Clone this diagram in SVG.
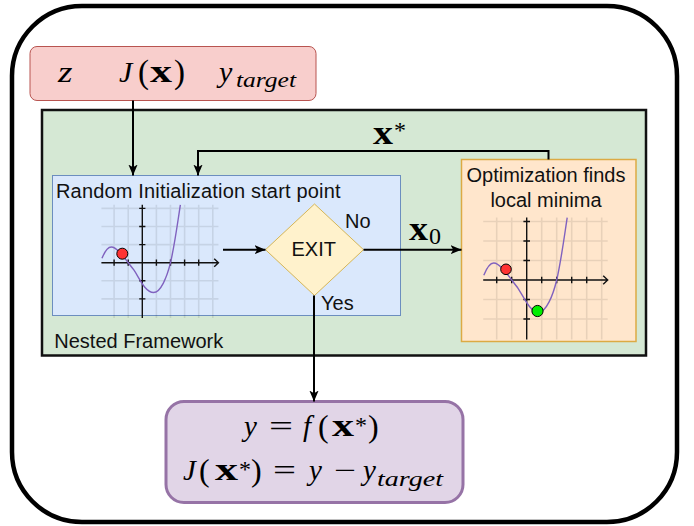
<svg xmlns="http://www.w3.org/2000/svg" xmlns:xlink="http://www.w3.org/1999/xlink" width="694" height="526" viewBox="0 0 694 526">
<style>
.sans{font-family:"Liberation Sans",Arial,sans-serif;font-size:20px;fill:#111}
.m{font-family:"Liberation Serif","Times New Roman",serif;fill:#000}
.mi{font-style:italic}
.mb{font-weight:bold}
.ln{fill:none;stroke:#000;stroke-width:2}
.grid{stroke:#000;stroke-opacity:0.09;stroke-width:1.6;vector-effect:non-scaling-stroke;fill:none}
.axis{stroke:#111;stroke-width:1.4;vector-effect:non-scaling-stroke;fill:none}
.curve{stroke:#8062bf;stroke-width:1.4;vector-effect:non-scaling-stroke;fill:none}
</style>
<defs>
<marker id="arr" viewBox="0 0 10 10" refX="10" refY="5" markerWidth="11" markerHeight="11" orient="auto" markerUnits="userSpaceOnUse">
<path d="M0,0.8 L10,5 L0,9.2 L2.5,5 Z" fill="#000"/>
</marker>
<g id="plot">
<path class="grid" d="M-2.9,3 H5.4 M-2.9,2 H5.4 M-2.9,1 H5.4 M-2.9,-1 H5.4 M-2.9,-2 H5.4 M-2,-3.05 V3.2 M-1,-3.05 V3.2 M1,-3.05 V3.2 M2,-3.05 V3.2 M3,-3.05 V3.2 M4,-3.05 V3.2 M5,-3.05 V3.2"/>
<path class="axis" d="M-2.9,0 H5.4 M5.1,0.22 L5.4,0 L5.1,-0.22 M0,-3.05 V3.2 M-2,-0.17 V0.17 M-1,-0.17 V0.17 M1,-0.17 V0.17 M2,-0.17 V0.17 M3,-0.17 V0.17 M4,-0.17 V0.17 M-0.22,3 H0.22 M-0.22,2 H0.22 M-0.22,1 H0.22 M-0.22,-1 H0.22 M-0.22,-2 H0.22"/>
<path class="curve" d="M-2.86,0.24 C-2.65,0.65 -2.45,0.87 -2.2,0.87 C-1.8,0.87 -1.3,0.3 -0.6,-0.4 C-0.2,-0.85 0.2,-1.65 0.8,-1.65 C1.3,-1.65 1.75,-0.8 2,0 C2.3,1 2.5,2.2 2.7,3.2"/>
</g>
</defs>

<g id="outer">
<rect x="12" y="6" width="665" height="516" rx="70" ry="70" fill="#fff" stroke="#000" stroke-width="4.5"/>
</g>

<g id="inputs">
<rect x="30" y="46.5" width="286" height="54" rx="7" fill="#f8cecc" stroke="#b85450" stroke-width="1"/>
<text class="m mi" x="58" y="82" font-size="30" textLength="14.5" lengthAdjust="spacingAndGlyphs">z</text>
<text class="m mi" x="119" y="82" font-size="30">J</text>
<text class="m" x="138" y="83" font-size="33">(</text>
<text class="m mb" x="150" y="82" font-size="32" textLength="22" lengthAdjust="spacingAndGlyphs">x</text>
<text class="m" x="174" y="83" font-size="33">)</text>
<text class="m mi" x="219" y="82" font-size="30">y</text>
<text class="m mi" x="236" y="87" font-size="22" textLength="60" lengthAdjust="spacingAndGlyphs">target</text>
</g>

<g id="nested-framework">
<rect x="42" y="110" width="604" height="245.5" fill="#d5e8d4" stroke="#111" stroke-width="2.5"/>
<text class="sans" x="54.3" y="347.5">Nested Framework</text>
</g>

<g id="random-init">
<rect x="52.5" y="175.5" width="348" height="140" fill="#dae8fc" stroke="#6c8ebf" stroke-width="1"/>
<text class="sans" x="56" y="197.5" textLength="284.5">Random Initialization start point</text>
<use xlink:href="#plot" href="#plot" transform="translate(142.3,262.7) scale(14.1,-18.1)"/>
<circle cx="122.3" cy="253.7" r="5.5" fill="#ff3333" stroke="#000" stroke-width="1"/>
</g>

<g id="exit">
<polygon points="314.5,204 363.5,249.7 314.5,295.5 265.5,249.7" fill="#fff2cc" stroke="#d6b656" stroke-width="1"/>
<text class="sans" x="313.7" y="256" font-size="18" text-anchor="middle">EXIT</text>
</g>

<g id="optimization">
<rect x="461.5" y="159.5" width="174.5" height="182" fill="#ffe6cc" stroke="#dcaa44" stroke-width="1.5"/>
<text class="sans" x="546" y="181.7" text-anchor="middle">Optimization finds</text>
<text class="sans" x="546" y="206.7" text-anchor="middle">local minima</text>
<use xlink:href="#plot" href="#plot" transform="translate(526.7,280) scale(15,-19.5)"/>
<circle cx="506" cy="269.3" r="5.3" fill="#ff3333" stroke="#000" stroke-width="1"/>
<circle cx="537.5" cy="311" r="5.6" fill="#00ee00" stroke="#000" stroke-width="1"/>
</g>

<g id="output">
<rect x="166" y="401.5" width="297" height="101" rx="18" ry="18" fill="#e1d5e7" stroke="#9673a6" stroke-width="3"/>
<text class="m mi" x="244" y="436" font-size="29">y</text>
<text class="m" x="269" y="436" font-size="29" textLength="24" lengthAdjust="spacingAndGlyphs">=</text>
<text class="m mi" x="303" y="436" font-size="29">f</text>
<text class="m" x="318" y="437" font-size="32">(</text>
<text class="m mb" x="332" y="436" font-size="32" textLength="22" lengthAdjust="spacingAndGlyphs">x</text>
<text class="m" x="355" y="433" font-size="24">*</text>
<text class="m" x="368" y="437" font-size="32">)</text>
<text class="m mi" x="183" y="480" font-size="29">J</text>
<text class="m" x="199" y="481" font-size="32">(</text>
<text class="m mb" x="215" y="480" font-size="32" textLength="23" lengthAdjust="spacingAndGlyphs">x</text>
<text class="m" x="239" y="477" font-size="24">*</text>
<text class="m" x="251" y="481" font-size="32">)</text>
<text class="m" x="273" y="480" font-size="29" textLength="23" lengthAdjust="spacingAndGlyphs">=</text>
<text class="m mi" x="309" y="480" font-size="29">y</text>
<text class="m" x="334" y="480" font-size="29" textLength="22" lengthAdjust="spacingAndGlyphs">−</text>
<text class="m mi" x="363" y="480" font-size="29">y</text>
<text class="m mi" x="377" y="486" font-size="21" textLength="66" lengthAdjust="spacingAndGlyphs">target</text>
</g>

<g id="connectors">
<path class="ln" d="M133,100.5 V175.5" marker-end="url(#arr)"/>
<path class="ln" d="M548.5,159.5 V151 H198 V175.5" marker-end="url(#arr)"/>
<path class="ln" d="M223,249.7 H265.5" marker-end="url(#arr)"/>
<path class="ln" d="M363.5,249.7 H461.5" marker-end="url(#arr)"/>
<path class="ln" d="M314,295.5 V401.5" marker-end="url(#arr)"/>
<text class="sans" x="345" y="228">No</text>
<text class="sans" x="321" y="310">Yes</text>
<text class="m mb" x="373" y="144" font-size="34" textLength="20" lengthAdjust="spacingAndGlyphs">x</text>
<text class="m" x="394" y="138" font-size="24">*</text>
<text class="m mb" x="409" y="239.5" font-size="34" textLength="19" lengthAdjust="spacingAndGlyphs">x</text>
<text class="m" x="429" y="243.5" font-size="24">0</text>
</g>
</svg>
